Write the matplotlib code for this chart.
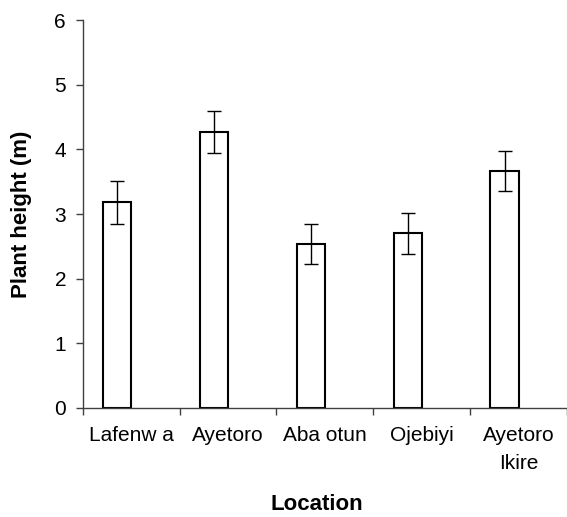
import matplotlib
matplotlib.use('Agg')
import matplotlib.pyplot as plt
import numpy as np

plt.rcParams['font.family'] = ['Liberation Sans', 'DejaVu Sans']

locations = ['Lafenw a', 'Ayetoro', 'Aba otun', 'Ojebiyi', 'Ayetoro\nIkire']
heights = [3.18, 4.27, 2.53, 2.70, 3.67]
errors = [0.33, 0.33, 0.31, 0.32, 0.31]

fig = plt.figure(figsize=(5.67, 5.17), dpi=100)
ax = fig.add_axes([0.146, 0.211, 0.854, 0.750])

x = np.arange(len(locations))
bw = 0.29
# bars sit left of the category centre (second, empty series in the original)
ax.bar(x - bw, heights, width=bw, align='edge', color='white',
       edgecolor='black', linewidth=1.5, zorder=2)
ax.errorbar(x - bw / 2, heights, yerr=errors, fmt='none', ecolor='black',
            elinewidth=1, capsize=5.2, capthick=1, zorder=3)

ax.set_xlim(-0.5, len(locations) - 0.5)
ax.set_ylim(0, 6)
ax.set_yticks(range(7))
ax.set_xticks(x)
ax.set_xticklabels(locations, fontsize=15, linespacing=1.6)
ax.set_xticks(np.arange(-0.5, len(locations)), minor=True)
ax.tick_params(axis='x', which='major', length=0, pad=13)
ax.tick_params(axis='x', which='minor', length=5, width=1, color='#404040',
               direction='out')
ax.tick_params(axis='y', labelsize=15, length=5, width=1, color='#404040',
               direction='out', pad=7)

for side in ['top', 'right']:
    ax.spines[side].set_visible(False)
for side in ['left', 'bottom']:
    ax.spines[side].set_color('#404040')
    ax.spines[side].set_linewidth(1)

ax.set_xlabel('Location', fontsize=16, fontweight='bold')
ax.xaxis.set_label_coords(0.484, -0.222)
ax.set_ylabel('Plant height (m)', fontsize=16, fontweight='bold')
ax.yaxis.set_label_coords(-0.105, 0.5)

fig.savefig('out.png', dpi=100)
